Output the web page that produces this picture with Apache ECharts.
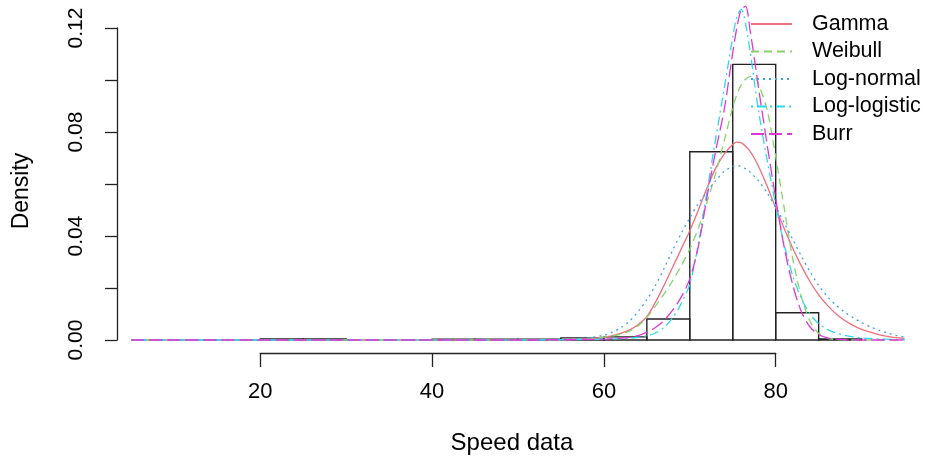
<!DOCTYPE html>
<html>
<head>
<meta charset="utf-8">
<script src="https://cdn.jsdelivr.net/npm/echarts@6/dist/echarts.min.js"></script>
<style>
  html, body { margin: 0; padding: 0; background: #ffffff; }
  #chart { width: 926px; height: 458px; }
</style>
</head>
<body>
<div id="chart"></div>
<script>
// Speed values at which each fitted density is evaluated
const speedPoints = [5, 10, 15, 20, 25, 30, 35, 40, 45, 50, 52, 54, 56, 58,
  60, 61, 62, 63, 64, 65, 66, 67, 68, 69, 70, 71, 72, 73, 74, 75,
  75.5, 76, 76.5, 77, 77.5,
  78, 79, 80, 81, 82, 83, 84, 85, 86, 87, 88, 89, 90, 91, 92, 93, 94, 95];

const gammaDensity = [0, 0, 0, 0, 0, 0, 0, 0, 0, 0, 0.0001, 0.0001, 0.0002, 0.0005,
  0.0011, 0.0017, 0.0026, 0.0039, 0.006, 0.009, 0.0145, 0.021, 0.028, 0.035, 0.042, 0.050, 0.0585, 0.066, 0.0715, 0.0752,
  0.0761, 0.0758, 0.0745, 0.0726, 0.0700,
  0.0668, 0.0592, 0.0508, 0.0428, 0.0352, 0.0284, 0.0224, 0.0174, 0.0134, 0.0101, 0.0076, 0.0056, 0.0041, 0.003, 0.0021, 0.0014, 0.0009, 0.0006];

const weibullDensity = [0, 0, 0, 0, 0, 0, 0, 0, 0, 0, 0.0001, 0.0001, 0.0002, 0.0005,
  0.0011, 0.0016, 0.0023, 0.0035, 0.0055, 0.0087, 0.013, 0.0177, 0.0228, 0.0285, 0.035, 0.043, 0.053, 0.064, 0.0765, 0.0895,
  0.0945, 0.0982, 0.1003, 0.1013, 0.1014,
  0.0985, 0.0885, 0.0705, 0.0505, 0.031, 0.0165, 0.0072, 0.0025, 0.0007, 0.0002, 0.0001, 0, 0, 0, 0, 0, 0, 0];

const lognormalDensity = [0, 0, 0, 0, 0, 0, 0, 0, 0, 0, 0.0001, 0.0002, 0.0004, 0.0008,
  0.0018, 0.003, 0.0048, 0.0073, 0.011, 0.0155, 0.021, 0.0275, 0.0345, 0.041, 0.047, 0.0525, 0.057, 0.0612, 0.0648, 0.0668,
  0.0671, 0.0667, 0.0658, 0.0646, 0.063,
  0.0612, 0.0566, 0.0512, 0.0450, 0.0386, 0.0322, 0.0262, 0.0210, 0.0168, 0.0135, 0.0108, 0.0086, 0.0067, 0.0051, 0.0038, 0.0027, 0.0018, 0.0011];

const loglogisticDensity = [0, 0, 0, 0, 0, 0, 0, 0, 0, 0, 0.0001, 0.0001, 0.0001, 0.0002,
  0.0003, 0.0004, 0.0005, 0.0007, 0.001, 0.0016, 0.0027, 0.0048, 0.0085, 0.014, 0.0215, 0.037, 0.057, 0.0772, 0.0965, 0.1165,
  0.1245, 0.1272, 0.1215, 0.1115, 0.0998,
  0.0882, 0.0692, 0.0520, 0.0365, 0.0245, 0.0158, 0.0100, 0.0063, 0.0041, 0.0027, 0.0018, 0.0012, 0.0008, 0.0006, 0.0004, 0.0003, 0.0002, 0.0002];

const burrDensity = [0, 0, 0, 0, 0, 0, 0, 0, 0, 0, 0, 0.0001, 0.0001, 0.0002,
  0.0003, 0.0005, 0.0007, 0.001, 0.0017, 0.003, 0.0048, 0.0075, 0.0115, 0.0165, 0.0235, 0.036, 0.055, 0.0725, 0.0885, 0.1105,
  0.1205, 0.1272, 0.1283, 0.1195, 0.1085,
  0.097, 0.0752, 0.0545, 0.0355, 0.0210, 0.0108, 0.0050, 0.0021, 0.0008, 0.0003, 0.0001, 0, 0, 0, 0, 0, 0, 0];

// Histogram of the observed speeds (density scale)
const binStarts = [20, 25, 40, 45, 50, 55, 60, 65, 70, 75, 80, 85];
const binEnds   = [25, 30, 45, 50, 55, 60, 65, 70, 75, 80, 85, 90];
const binDensity = [0.0004, 0.0004, 0.0003, 0.0003, 0.0003, 0.0008, 0.0012, 0.0081, 0.0724, 0.106, 0.0105, 0.0004];

const xTickLabels = ['20', '40', '60', '80'];
const yTickLabels = ['0.00', '0.04', '0.08', '0.12'];
const seriesNames = ['Gamma', 'Weibull', 'Log-normal', 'Log-logistic', 'Burr'];

const FONT = 'Liberation Sans, Arial, sans-serif';

const curveStyles = [
  { color: '#EE6E7C', type: 'solid' },
  { color: '#86D46A', type: [8, 5] },
  { color: '#3A9FF0', type: [2, 4] },
  { color: '#2CD8EC', type: [2, 4, 9, 4] },
  { color: '#DE38D2', type: [13, 5] }
];
const curveData = [gammaDensity, weibullDensity, lognormalDensity, loglogisticDensity, burrDensity];

const chart = echarts.init(document.getElementById('chart'), null, { renderer: 'canvas' });

const lineSeries = seriesNames.map((name, i) => ({
  name: name,
  type: 'line',
  xAxisIndex: 0,
  yAxisIndex: 0,
  data: speedPoints.map((x, j) => [x, curveData[i][j]]),
  showSymbol: false,
  symbol: 'none',
  smooth: 0.3,
  clip: false,
  silent: true,
  animation: false,
  color: curveStyles[i].color,
  lineStyle: { color: curveStyles[i].color, width: 1.3, type: curveStyles[i].type },
  z: 3
}));

chart.setOption({
  animation: false,
  backgroundColor: '#ffffff',
  textStyle: { fontFamily: FONT },
  grid: [
    { left: 131.45, top: 28, width: 773.1, height: 312 },
    { left: 260.3, top: 343, width: 515.4, height: 10 }
  ],
  xAxis: [
    {
      gridIndex: 0, type: 'value', min: 5, max: 95,
      show: false
    },
    {
      gridIndex: 1, type: 'value', min: 20, max: 80, interval: 20,
      position: 'bottom',
      axisLine: { show: true, lineStyle: { color: '#222', width: 1.3 } },
      axisTick: { show: true, length: 14, lineStyle: { color: '#222', width: 1.3 } },
      axisLabel: {
        show: true, margin: 28, color: '#000', fontSize: 22, fontFamily: FONT,
        formatter: v => xTickLabels.includes(String(v)) ? String(v) : ''
      },
      splitLine: { show: false }
    }
  ],
  yAxis: [
    {
      gridIndex: 0, type: 'value', min: 0, max: 0.12, interval: 0.02,
      offset: 14.45,
      axisLine: { show: true, lineStyle: { color: '#222', width: 1.3 } },
      axisTick: { show: true, length: 12, lineStyle: { color: '#222', width: 1.3 } },
      axisLabel: {
        show: true, rotate: 90, margin: 30, color: '#000', fontSize: 21, fontFamily: FONT,
        formatter: v => {
          const s = v.toFixed(2);
          return yTickLabels.includes(s) ? s : '';
        }
      },
      splitLine: { show: false }
    },
    { gridIndex: 1, type: 'value', show: false }
  ],
  legend: {
    data: seriesNames,
    orient: 'vertical',
    left: 750,
    top: 13,
    padding: 0,
    itemWidth: 41,
    itemHeight: 14,
    itemGap: 5.5,
    selectedMode: false,
    itemStyle: { opacity: 0 },
    textStyle: { color: '#000', fontSize: 21.5, fontFamily: FONT, lineHeight: 21.5, padding: [0, 0, 0, 15] }
  },
  graphic: [
    {
      type: 'text', x: 22, y: 191, rotation: Math.PI / 2,
      style: { text: 'Density', fill: '#000', font: '23px ' + FONT, textAlign: 'center', textVerticalAlign: 'middle' }
    },
    {
      type: 'text', x: 512, y: 443,
      style: { text: 'Speed data', fill: '#000', font: '24px ' + FONT, textAlign: 'center', textVerticalAlign: 'middle' }
    }
  ],
  series: [
    {
      type: 'custom',
      xAxisIndex: 0,
      yAxisIndex: 0,
      silent: true,
      data: binStarts.map((s, i) => [s, binEnds[i], binDensity[i]]),
      encode: { x: [0, 1], y: 2 },
      renderItem: (params, api) => {
        const top = api.coord([api.value(0), api.value(2)]);
        const base = api.coord([api.value(1), 0]);
        return {
          type: 'rect',
          shape: { x: top[0], y: top[1], width: base[0] - top[0], height: base[1] - top[1] },
          style: { fill: 'none', stroke: '#222', lineWidth: 1.4 }
        };
      },
      z: 2
    },
    ...lineSeries
  ]
});
</script>
</body>
</html>
